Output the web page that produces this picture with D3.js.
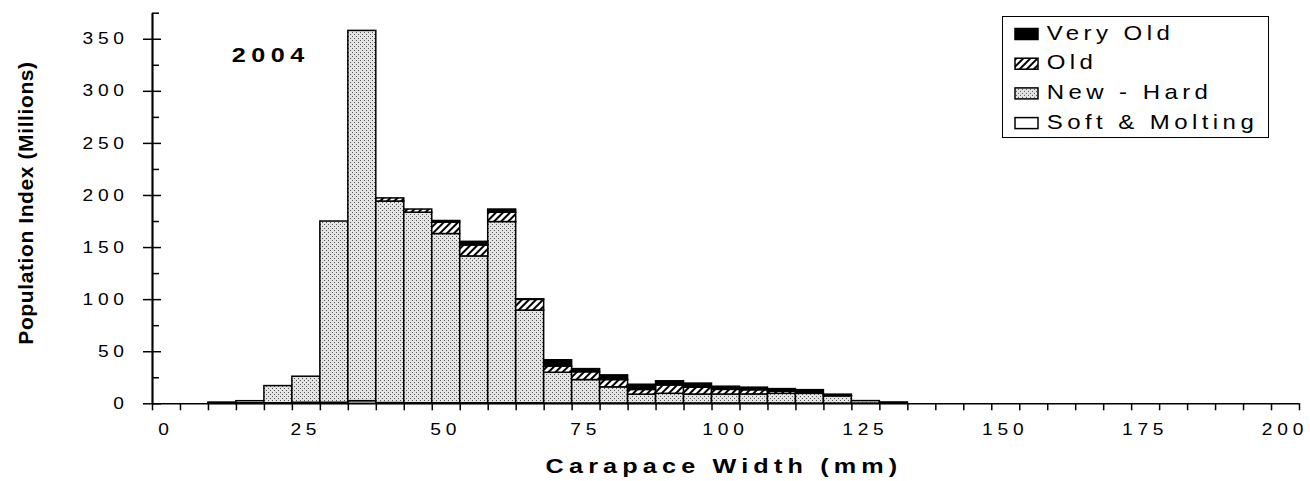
<!DOCTYPE html>
<html>
<head>
<meta charset="utf-8">
<script src="https://cdn.jsdelivr.net/npm/d3@7/dist/d3.min.js"></script>
<style>
body { margin: 0; background: #fff; }
text { font-family: "Liberation Sans", Arial, sans-serif; fill: #000; }
</style>
</head>
<body>
<svg id="chart" width="1310" height="481"></svg>
<script>
// 5 mm carapace width bins, 0..200
var widths = d3.range(0, 205, 5);
var tickLabels = [0, 25, 50, 75, 100, 125, 150, 175, 200];
var yMajor = [0, 50, 100, 150, 200, 250, 300, 350];
var yMinor = [25, 75, 125, 175, 225, 275, 325, 375];

// population index (millions) by shell condition
var softMolting = [0, 0, 0.5, 0.5, 0.5, 1, 1, 2.5, 0.7, 0.5,
  0.5, 0.5, 0.5, 0.5, 0.3, 0.3, 0.3, 0.3, 0.3, 0.3,
  0.3, 0.3, 0.3, 0.2, 0.2, 0.2, 0.2, 0, 0, 0,
  0, 0, 0, 0, 0, 0, 0, 0, 0, 0, 0];
var newHard = [0, 0, 0.7, 2, 16.5, 25, 174, 355.5, 193.5, 183,
  162.5, 141, 174, 89, 29.5, 22.5, 15.5, 8.5, 9.3, 8.6,
  8.6, 8.7, 9.3, 9.4, 7, 2.4, 0.3, 0, 0, 0,
  0, 0, 0, 0, 0, 0, 0, 0, 0, 0, 0];
var old = [0, 0, 0, 0, 0, 0, 0, 0, 3, 3,
  11, 10.5, 9, 10.3, 6, 7.5, 7, 4.5, 8, 6.5,
  4.5, 4, 2, 0, 0.3, 0, 0, 0, 0, 0,
  0, 0, 0, 0, 0, 0, 0, 0, 0, 0, 0];
var veryOld = [0, 0, 0, 0, 0, 0, 0, 0, 0, 0,
  1.5, 3.5, 3, 0.5, 6, 3, 4.5, 5, 4, 4,
  3, 2.5, 2.5, 3.5, 1.3, 0, 0.8, 0, 0, 0,
  0, 0, 0, 0, 0, 0, 0, 0, 0, 0, 0];

var keys = ["soft", "newHard", "old", "veryOld"];
var legendNames = ["Very Old", "Old", "New - Hard", "Soft & Molting"];
var legendKeys = ["veryOld", "old", "newHard", "soft"];

var rows = widths.map(function(w, i) {
  return { w: w, soft: softMolting[i], newHard: newHard[i], old: old[i], veryOld: veryOld[i] };
});

var svg = d3.select("#chart");
var plotLeft = 152, plotRight = 1299, plotTop = 12.7, plotBottom = 403.3;
var sx = 1.2; // text in the original is stretched sideways

var x = d3.scaleBand().domain(widths).range([plotLeft, plotRight]).padding(0);
var xl = d3.scaleLinear().domain([0, widths.length]).range([plotLeft, plotRight]);
var y = d3.scaleLinear().domain([0, 375]).range([plotBottom, plotTop]);

// fill patterns
var defs = svg.append("defs");
var dots = defs.append("pattern").attr("id", "dots")
  .attr("patternUnits", "userSpaceOnUse").attr("width", 4).attr("height", 4);
dots.append("rect").attr("width", 4).attr("height", 4).attr("fill", "#e4e4e4");
dots.append("rect").attr("x", 0).attr("y", 0).attr("width", 1).attr("height", 1).attr("fill", "#555");
dots.append("rect").attr("x", 2).attr("y", 2).attr("width", 1).attr("height", 1).attr("fill", "#555");

var hatch = defs.append("pattern").attr("id", "hatch")
  .attr("patternUnits", "userSpaceOnUse").attr("width", 5).attr("height", 5)
  .attr("patternTransform", "rotate(45)");
hatch.append("rect").attr("width", 5).attr("height", 5).attr("fill", "#fff");
hatch.append("rect").attr("width", 2).attr("height", 5).attr("fill", "#000");

var fills = { soft: "#fff", newHard: "url(#dots)", old: "url(#hatch)", veryOld: "#000" };

// bars
var series = d3.stack().keys(keys)(rows);
svg.append("g").selectAll("g")
  .data(series)
  .join("g")
  .attr("fill", function(s) { return fills[s.key]; })
  .selectAll("rect")
  .data(function(s) { return s.filter(function(d) { return d[1] - d[0] > 0; }); })
  .join("rect")
  .attr("x", function(d) { return x(d.data.w); })
  .attr("width", x.bandwidth())
  .attr("y", function(d) { return y(d[1]); })
  .attr("height", function(d) { return y(d[0]) - y(d[1]); })
  .attr("stroke", "#000")
  .attr("stroke-width", 1.5);

// y axis: crossing major ticks, inside minor ticks
var gy = svg.append("g").attr("transform", "translate(" + plotLeft + ",0)");
gy.call(d3.axisLeft(y).tickValues(yMajor).tickSize(9).tickSizeOuter(0));
gy.append("g").call(d3.axisRight(y).tickValues(yMajor).tickSize(9).tickSizeOuter(0).tickFormat(""));
gy.append("g").call(d3.axisRight(y).tickValues(yMinor).tickSize(7).tickSizeOuter(0).tickFormat(""));
gy.selectAll("path, line").attr("stroke", "#000").attr("stroke-width", 1.5);
gy.selectAll("text")
  .attr("x", -19.3)
  .attr("transform", "scale(" + sx + ",1)")
  .style("font-size", "16px")
  .style("letter-spacing", "4px");

// x axis: ticks between bins, labels every 25 mm
var gx = svg.append("g").attr("transform", "translate(0," + plotBottom + ")");
gx.call(d3.axisBottom(xl).tickValues(d3.range(0, widths.length + 1)).tickSize(7).tickSizeOuter(0).tickFormat(""));
gx.selectAll("path, line").attr("stroke", "#000").attr("stroke-width", 1.5);
var gxl = svg.append("g").attr("transform", "translate(0," + plotBottom + ")");
gxl.call(d3.axisBottom(x).tickValues(tickLabels).tickSize(0));
gxl.select(".domain").remove();
gxl.selectAll("text")
  .attr("y", 31.7)
  .attr("dy", null)
  .attr("transform", "scale(" + sx + ",1)")
  .style("font-size", "16px")
  .style("letter-spacing", "4px");
// the tick group translate is not scaled, so undo the stretch on x only
gxl.selectAll(".tick").each(function() {
  var t = d3.select(this);
  var tx = +t.attr("transform").match(/translate\(([^,]+)/)[1];
  t.attr("transform", "translate(" + tx + ",0)");
});

// axis titles
svg.append("text")
  .attr("transform", "translate(724,473) scale(" + sx + ",1)")
  .attr("text-anchor", "middle")
  .style("font-size", "21px")
  .style("font-weight", "bold")
  .style("letter-spacing", "4.3px")
  .text("Carapace Width (mm)");

svg.append("text")
  .attr("transform", "translate(32.7,203) rotate(-90)")
  .attr("text-anchor", "middle")
  .style("font-size", "21px")
  .style("font-weight", "bold")
  .style("letter-spacing", "0.6px")
  .text("Population Index (Millions)");

svg.append("text")
  .attr("transform", "translate(231.7,61.7) scale(" + sx + ",1)")
  .style("font-size", "21px")
  .style("font-weight", "bold")
  .style("letter-spacing", "4.6px")
  .text("2004");

// legend
var lg = svg.append("g");
lg.append("rect")
  .attr("x", 1002.5).attr("y", 16.5).attr("width", 266).attr("height", 121)
  .attr("fill", "#fff").attr("stroke", "#000").attr("stroke-width", 1);
var item = lg.selectAll("g.item")
  .data(legendKeys)
  .join("g")
  .attr("class", "item")
  .attr("transform", function(k, i) { return "translate(0," + (39.5 + i * 29.7) + ")"; });
item.append("rect")
  .attr("x", 1015).attr("y", -11).attr("width", 23).attr("height", 11)
  .attr("fill", function(k) { return fills[k]; })
  .attr("stroke", "#000").attr("stroke-width", 1.5);
item.append("text")
  .attr("transform", "translate(1046.7,0) scale(" + sx + ",1)")
  .style("font-size", "20px")
  .style("letter-spacing", "3.7px")
  .text(function(k, i) { return legendNames[i]; });
</script>
</body>
</html>
